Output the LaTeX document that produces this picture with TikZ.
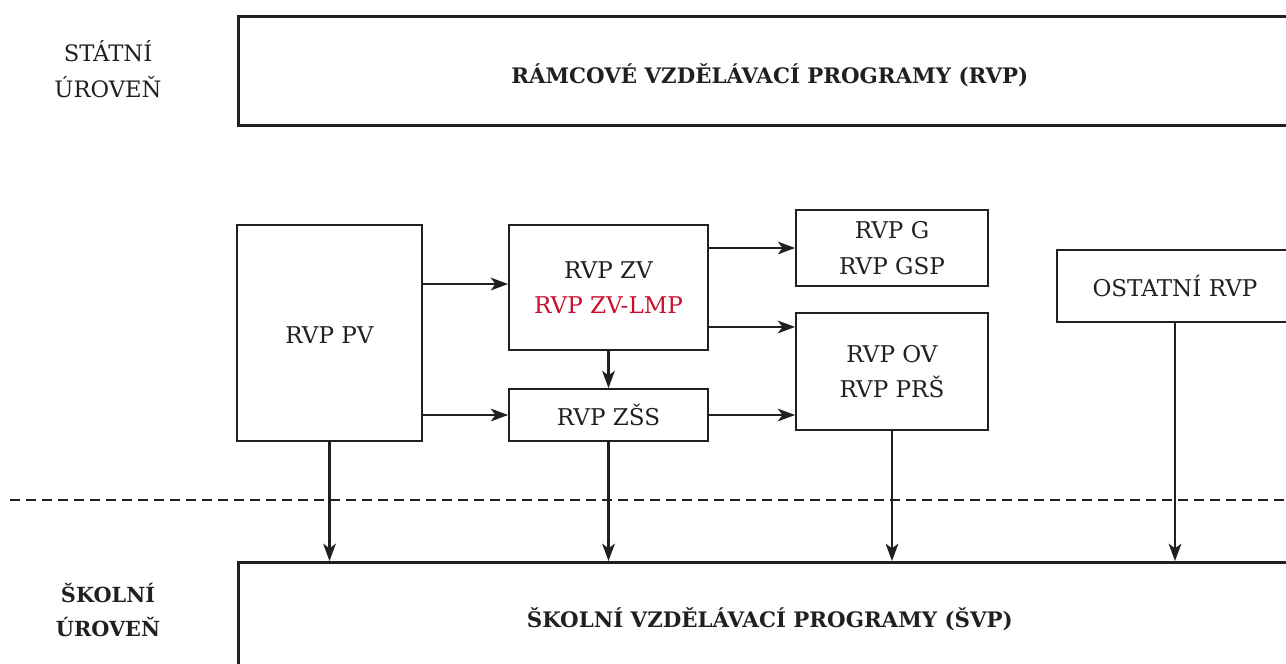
\documentclass[tikz,border=0pt]{standalone}
\usepackage{fontspec}
\setmainfont{DejaVu Serif}
\usepackage{tikz}
\usetikzlibrary{arrows.meta,positioning,calc}
\definecolor{linka}{HTML}{231F20}
\definecolor{cervena}{HTML}{C8102E}
\tikzset{
  blok/.style={draw=linka,line width=1.3pt,fill=white,align=center,text=linka,font=\fontsize{17.3}{26.5}\selectfont,inner sep=0pt},
  velkyblok/.style={blok,line width=2.2pt,font=\fontsize{16}{24}\selectfont\bfseries,anchor=north west},
  uroven/.style={align=center,text=linka,font=\fontsize{17}{27.5}\selectfont},
  sipka/.style={-{Stealth[length=13pt,width=9.5pt,inset=3.5pt]},line width=1.7pt,linka},
  hranice/.style={line width=1.6pt,linka,dash pattern=on 7.5pt off 4.5pt},
}

\begin{document}
\begin{tikzpicture}[x=0.75pt,y=-0.75pt]
  \clip (0,0) rectangle (1286,664);
  % urovne
  \node[uroven] (statni) at (108,69) {STÁTNÍ\\ÚROVEŇ};
  \node[uroven,font=\fontsize{15.6}{26}\selectfont\bfseries] (skolni) at (108,610) {ŠKOLNÍ\\ÚROVEŇ};
  \node[velkyblok,minimum width=797pt,minimum height=81.75pt,text height=19pt,text depth=0pt] (rvp) at (237,15) {RÁMCOVÉ VZDĚLÁVACÍ PROGRAMY (RVP)};
  \node[velkyblok,minimum width=797pt,minimum height=85.5pt] (svp) at (237,561) {ŠKOLNÍ VZDĚLÁVACÍ PROGRAMY (ŠVP)};
  % jednotlive RVP
  \node[blok,minimum width=138.75pt,minimum height=162pt,text height=15pt,text depth=0pt] (pv) at (329.5,333) {RVP PV};
  \node[blok,minimum width=149.25pt,minimum height=93.75pt] (zv) at (608.5,287.5) {RVP ZV\\\textcolor{cervena}{RVP ZV-LMP}};
  \node[blok,minimum width=149.25pt,minimum height=39pt] (zss) at (608.5,415) {RVP ZŠS};
  \node[blok,minimum width=144pt,minimum height=57pt] (g) at (892,248) {RVP G\\RVP GSP};
  \node[blok,minimum width=144pt,minimum height=87.75pt] (ov) at (892,371.5) {RVP OV\\RVP PRŠ};
  \node[blok,minimum width=177pt,minimum height=54pt] (ost) at (1175,286) {OSTATNÍ RVP};
  % hranice statni / skolni
  \coordinate (hl) at (10,500);
  \coordinate (hr) at (1290,500);
  \draw[hranice] (hl) -- (hr);
  % vazby
  \coordinate (pvzv) at ([yshift=2.6pt]zv.west);
  \coordinate (zvov) at ([yshift=-29.6pt]zv.east);
  \draw[sipka] (pvzv -| pv.east) -- (pvzv);
  \draw[sipka] (pv.east |- zss.west) -- (zss.west);
  \draw[sipka] (zv) -- (zss);
  \draw[sipka] (zv.east |- g.west) -- (g.west);
  \draw[sipka] (zvov) -- (zvov -| ov.west);
  \draw[sipka] (zss.east) -- (zss.east -| ov.west);
  \draw[sipka] (pv.south) -- (pv.south |- svp.north);
  \draw[sipka] (zss.south) -- (zss.south |- svp.north);
  \draw[sipka] (ov.south) -- (ov.south |- svp.north);
  \draw[sipka] (ost.south) -- (ost.south |- svp.north);
\end{tikzpicture}
\end{document}
